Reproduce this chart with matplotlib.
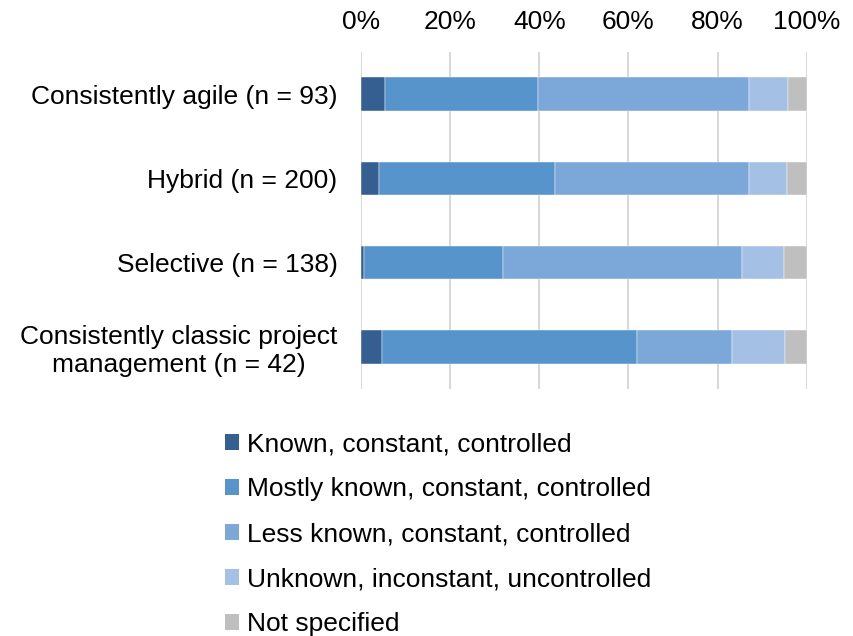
import matplotlib
matplotlib.use("Agg")
import matplotlib.pyplot as plt
from matplotlib.patches import Patch
import numpy as np

categories = ["Consistently agile (n = 93)", "Hybrid (n = 200)", "Selective (n = 138)",
              "Consistently classic project\nmanagement (n = 42)"]
series = ["Known, constant, controlled", "Mostly known, constant, controlled",
          "Less known, constant, controlled", "Unknown, inconstant, uncontrolled",
          "Not specified"]
known = [5.4, 4.0, 0.7, 4.8]
mostly_known = [34.4, 39.5, 31.2, 57.1]
less_known = [47.3, 43.5, 53.6, 21.4]
unknown = [8.6, 8.5, 9.4, 11.9]
not_specified = [4.3, 4.5, 5.1, 4.8]
values = [known, mostly_known, less_known, unknown, not_specified]
colors = ["#365F91", "#5794CB", "#7BA8D8", "#A4C0E4", "#BFBFBF"]
xticks = [0, 20, 40, 60, 80, 100]
xticklabels = ["0%", "20%", "40%", "60%", "80%", "100%"]

plt.rcParams['font.family'] = ['Liberation Sans', 'DejaVu Sans']
FS = 19
fig = plt.figure(figsize=(8.54, 6.36), dpi=100)
ax = fig.add_axes([361/854, 1-389/636, (806.7-361)/854, (389-52)/636])

y = np.arange(len(categories))
left = np.zeros(len(categories))
for vals, col, name in zip(values, colors, series):
    ax.barh(y, vals, left=left, height=0.4, color=col, label=name, zorder=3,
            edgecolor='white', linewidth=0.3)
    left += np.array(vals)

ax.set_xlim(0, 100)
ax.set_ylim(-0.5, len(categories) - 0.5)
ax.invert_yaxis()
ax.set_xticks(xticks)
ax.set_xticklabels(xticklabels, fontsize=FS)
ax.xaxis.tick_top()
ax.tick_params(axis='x', length=0, pad=13)
ax.set_yticks(y)
ax.set_yticklabels(categories, fontsize=FS, multialignment='center', linespacing=1.2)
ax.tick_params(axis='y', length=0, pad=17)
ax.grid(axis='x', color='#D9D9D9', linewidth=1.5, zorder=0)
for s in ax.spines.values():
    s.set_visible(False)

handles = [Patch(facecolor=c, edgecolor='none') for c in colors]
fig.legend(handles, series, loc='upper left', bbox_to_anchor=(214/854, 1-422/636),
           frameon=False, fontsize=FS, handlelength=0.55, handleheight=0.55,
           handletextpad=0.3, labelspacing=0.79, borderaxespad=0)

fig.savefig("out.png", dpi=100)
